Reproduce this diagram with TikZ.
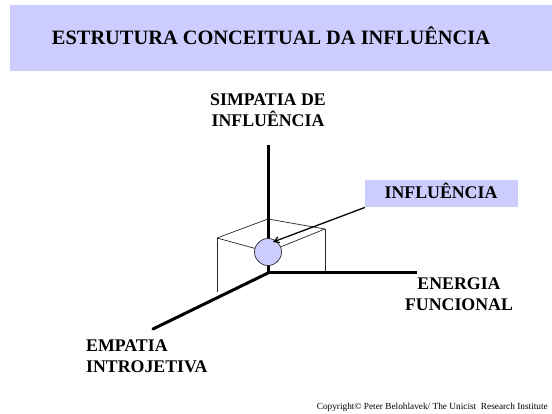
\documentclass[tikz,border=0pt]{standalone}
\usepackage{fontspec}
\setmainfont{Liberation Serif}
\usetikzlibrary{arrows.meta}
\definecolor{lav}{HTML}{CCCCFF}
\begin{document}
\begin{tikzpicture}[x=1pt,y=-1pt,
  axisline/.style={line width=3pt},
  cubeline/.style={line width=0.7pt, draw=black!85},
  lbl/.style={font=\bfseries\fontsize{17.8}{21.5}\selectfont, align=center, inner sep=0pt},
  box/.style={fill=lav, inner sep=0pt, anchor=north west}]
\useasboundingbox (0,0) rectangle (552,414);
% header
\node[box, minimum width=542pt, minimum height=66pt] (header) at (10,5) {};
\node[anchor=base, inner sep=0pt, font=\bfseries\fontsize{20.4}{24}\selectfont] (title) at (271,45) {ESTRUTURA CONCEITUAL DA INFLUÊNCIA};
% axes
\coordinate (O) at (268,273);
\coordinate (top) at (268,145);
\coordinate (rgt) at (417,273);
\coordinate (dg) at (153,329);
% cube
\coordinate (L) at (217,238);
\coordinate (B) at (268,219);
\coordinate (R) at (325,229);
\coordinate (F) at (268,252);
\coordinate (Lb) at (217,292);
\coordinate (Rb) at (325,273);
\draw[cubeline] (L) -- (B) -- (R);
\draw[cubeline] (L) -- (F) -- (R);
\draw[cubeline] (L) -- (Lb);
\draw[cubeline] (R) -- (Rb);
\draw[axisline] (top) -- (O);
\draw[axisline] (O) -- (rgt);
\draw[axisline, line cap=round] (O) -- (dg);
\node[circle, fill=lav, draw=black!80, line width=0.7pt, minimum size=27pt, inner sep=0pt] (circ) at (F) {};
% influence box
\node[box, minimum width=153pt, minimum height=27pt] (inflbox) at (365,180) {};
\node[lbl, anchor=base] (infl) at (441,199) {INFLUÊNCIA};
\coordinate (tip) at (273,242);
\draw[line width=1.3pt, -{Straight Barb[length=5pt,width=6pt]}] (inflbox.south west) -- (tip);
% labels
\node[lbl, anchor=base] (simp) at (268,127) {SIMPATIA DE\\INFLUÊNCIA};
\node[lbl, anchor=base] (ener) at (459,311) {ENERGIA\\FUNCIONAL};
\node[lbl, anchor=base west, align=left] (emp) at (86,373) {EMPATIA\\INTROJETIVA};
\node[anchor=base east, inner sep=0pt, font=\fontsize{9.3}{10}\selectfont] (copy) at (548,409) {Copyright© Peter Belohlavek/ The Unicist\ \ Research Institute};
\end{tikzpicture}
\end{document}
